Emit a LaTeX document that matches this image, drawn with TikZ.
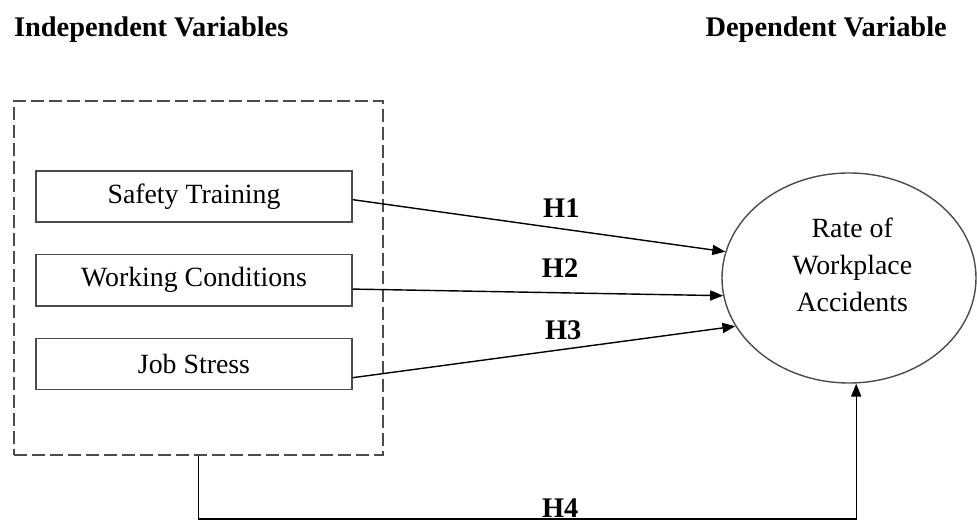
\documentclass[tikz,border=0pt]{standalone}
\usepackage{fontspec}
\setmainfont{Liberation Serif}
\usepackage{xcolor}
\usepackage{tikz}
\usetikzlibrary{positioning,arrows.meta,shapes.geometric}

\begin{document}
\begin{tikzpicture}[font=\fontsize{9.9}{13.2}\selectfont, line width=0.5pt,
  ivar/.style={draw=black!70, minimum width=3.95cm, minimum height=0.64cm, inner sep=0pt},
  hyp/.style={font=\fontsize{10.1}{12}\selectfont\bfseries, inner sep=1pt},
  head/.style={font=\fontsize{10.1}{12}\selectfont\bfseries},
  arr/.style={-{Triangle[length=4.6pt,width=3.6pt]}}]
  \useasboundingbox (0,0) rectangle (12.2125,6.5);
  \node[head, anchor=west] (ivtitle) at (0.05,6.13) {Independent Variables};
  \node[head, anchor=east] (dvtitle) at (11.96,6.13) {Dependent Variable};
  % dashed frame round the independent variables
  \node[draw=black!70, line width=0.7pt, dash pattern=on 4.6pt off 1.8pt,
        minimum width=4.6125cm, minimum height=4.425cm, inner sep=0pt] (ivbox) at (2.48,3.025) {};
  \node[ivar] (train) at (2.425,4.044) {Safety Training};
  \node[ivar, below=0.39cm of train] (cond) {Working Conditions};
  \node[ivar, below=0.39cm of cond] (stress) {Job Stress};
  % outcome
  \node[ellipse, draw=black!70, minimum width=3.175cm, minimum height=2.625cm, inner sep=0pt] (acc) at (10.6125,3.025) {};
  \node[align=center] (acctext) at ([xshift=0.04cm, yshift=0.16cm]acc.center) {Rate of\\Workplace\\Accidents};
  % hypotheses
  \draw[arr] ([yshift=-0.04cm]train.east) -- (acc.168) node[hyp, above=2.9pt, pos=0.56] {H1};
  \draw[arr] ([yshift=-0.11cm]cond.east) -- (acc.188) node[hyp, above=4.3pt, pos=0.56] {H2};
  \draw[arr] ([yshift=-0.17cm]stress.east) -- (acc.203) node[hyp, above=2.1pt, pos=0.55] {H3};
  \draw[arr] (ivbox.south) -- ++(0,-0.79) -| ([xshift=0.09cm]acc.south)
    node[hyp, above, inner sep=0.3pt, pos=0.275] {H4};
\end{tikzpicture}
\end{document}
